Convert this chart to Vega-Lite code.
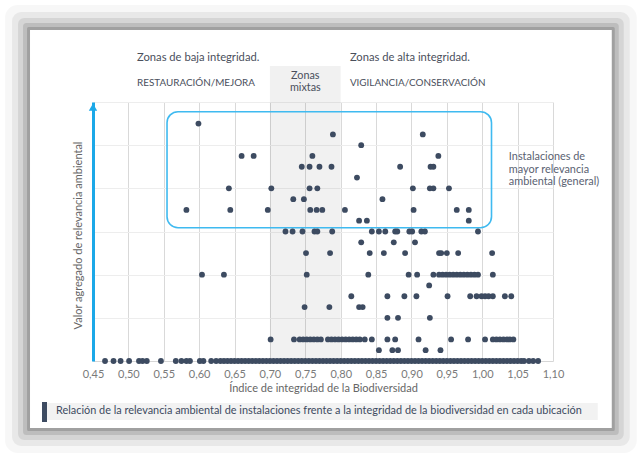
{
  "$schema": "https://vega.github.io/schema/vega-lite/v6.json",
  "autosize": {"type": "none"},
  "padding": {"left": 93, "top": 102, "right": 91, "bottom": 96},
  "width": 460,
  "height": 259,
  "background": "white",
  "config": {
    "view": {"stroke": null},
    "font": "Lato",
    "text": {"font": "Lato"},
    "axisX": {"labelOverlap": false, "labelBound": false, "labelFlush": false}
  },
  "datasets": {
    "puntos": [
      {"x":0.467,"y":0},{"x":0.479,"y":0},{"x":0.489,"y":0},{"x":0.501,"y":0},{"x":0.515,"y":0},{"x":0.520,"y":0},{"x":0.526,"y":0},{"x":0.546,"y":0},{"x":0.567,"y":0},{"x":0.575,"y":0},{"x":0.582,"y":0},{"x":0.587,"y":0},{"x":0.601,"y":0},{"x":0.606,"y":0},{"x":0.617,"y":0},{"x":0.624,"y":0},
      {"x":0.630,"y":0},{"x":0.635,"y":0},{"x":0.640,"y":0},{"x":0.645,"y":0},{"x":0.650,"y":0},{"x":0.655,"y":0},{"x":0.660,"y":0},{"x":0.665,"y":0},{"x":0.670,"y":0},{"x":0.675,"y":0},{"x":0.680,"y":0},{"x":0.685,"y":0},{"x":0.690,"y":0},{"x":0.695,"y":0},{"x":0.700,"y":0},{"x":0.705,"y":0},{"x":0.710,"y":0},{"x":0.715,"y":0},{"x":0.720,"y":0},{"x":0.725,"y":0},{"x":0.730,"y":0},{"x":0.735,"y":0},{"x":0.740,"y":0},{"x":0.745,"y":0},{"x":0.750,"y":0},{"x":0.755,"y":0},{"x":0.760,"y":0},{"x":0.765,"y":0},{"x":0.770,"y":0},{"x":0.775,"y":0},{"x":0.780,"y":0},{"x":0.785,"y":0},{"x":0.790,"y":0},{"x":0.795,"y":0},{"x":0.800,"y":0},{"x":0.805,"y":0},{"x":0.810,"y":0},{"x":0.815,"y":0},{"x":0.820,"y":0},{"x":0.825,"y":0},{"x":0.830,"y":0},{"x":0.835,"y":0},{"x":0.840,"y":0},{"x":0.845,"y":0},{"x":0.850,"y":0},{"x":0.855,"y":0},{"x":0.860,"y":0},{"x":0.865,"y":0},{"x":0.870,"y":0},{"x":0.875,"y":0},{"x":0.880,"y":0},{"x":0.885,"y":0},{"x":0.890,"y":0},{"x":0.895,"y":0},{"x":0.900,"y":0},{"x":0.905,"y":0},{"x":0.910,"y":0},{"x":0.915,"y":0},{"x":0.920,"y":0},{"x":0.925,"y":0},{"x":0.930,"y":0},{"x":0.935,"y":0},{"x":0.940,"y":0},{"x":0.945,"y":0},{"x":0.950,"y":0},{"x":0.955,"y":0},{"x":0.960,"y":0},{"x":0.965,"y":0},{"x":0.970,"y":0},{"x":0.975,"y":0},{"x":0.980,"y":0},{"x":0.985,"y":0},{"x":0.990,"y":0},{"x":0.995,"y":0},{"x":1.000,"y":0},{"x":1.005,"y":0},{"x":1.010,"y":0},{"x":1.015,"y":0},{"x":1.020,"y":0},{"x":1.025,"y":0},{"x":1.030,"y":0},{"x":1.035,"y":0},{"x":1.040,"y":0},{"x":1.045,"y":0},{"x":1.050,"y":0},{"x":1.055,"y":0},{"x":1.059,"y":0},{"x":1.066,"y":0},{"x":1.072,"y":0},{"x":1.079,"y":0},
      {"x":0.854,"y":0.25},{"x":0.873,"y":0.25},{"x":0.881,"y":0.25},{"x":0.920,"y":0.25},{"x":0.941,"y":0.25},
      {"x":0.701,"y":0.5},{"x":0.734,"y":0.5},{"x":0.742,"y":0.5},{"x":0.747,"y":0.5},{"x":0.752,"y":0.5},{"x":0.757,"y":0.5},{"x":0.762,"y":0.5},{"x":0.767,"y":0.5},{"x":0.772,"y":0.5},{"x":0.782,"y":0.5},{"x":0.787,"y":0.5},{"x":0.792,"y":0.5},{"x":0.797,"y":0.5},{"x":0.802,"y":0.5},{"x":0.807,"y":0.5},{"x":0.812,"y":0.5},{"x":0.817,"y":0.5},{"x":0.822,"y":0.5},{"x":0.827,"y":0.5},{"x":0.834,"y":0.5},{"x":0.844,"y":0.5},{"x":0.866,"y":0.5},{"x":0.877,"y":0.5},{"x":0.910,"y":0.5},{"x":0.956,"y":0.5},{"x":0.980,"y":0.5},{"x":1.004,"y":0.5},{"x":1.015,"y":0.5},{"x":1.020,"y":0.5},{"x":1.025,"y":0.5},{"x":1.030,"y":0.5},{"x":1.035,"y":0.5},{"x":1.039,"y":0.5},{"x":1.044,"y":0.5},
      {"x":0.866,"y":1},{"x":0.881,"y":1},{"x":0.926,"y":1},
      {"x":0.749,"y":1.25},{"x":0.784,"y":1.25},{"x":0.826,"y":1.25},{"x":0.831,"y":1.25},
      {"x":0.815,"y":1.5},{"x":0.866,"y":1.5},{"x":0.890,"y":1.5},{"x":0.907,"y":1.5},{"x":0.951,"y":1.5},{"x":0.983,"y":1.5},{"x":0.992,"y":1.5},{"x":0.999,"y":1.5},{"x":1.004,"y":1.5},{"x":1.009,"y":1.5},{"x":1.015,"y":1.5},{"x":1.032,"y":1.5},{"x":1.041,"y":1.5},
      {"x":0.925,"y":1.75},
      {"x":0.604,"y":2},{"x":0.635,"y":2},{"x":0.752,"y":2},{"x":0.839,"y":2},{"x":0.896,"y":2},{"x":0.908,"y":2},{"x":0.931,"y":2},{"x":0.939,"y":2},{"x":0.944,"y":2},{"x":0.949,"y":2},{"x":0.954,"y":2},{"x":0.959,"y":2},{"x":0.964,"y":2},{"x":0.969,"y":2},{"x":0.974,"y":2},{"x":0.979,"y":2},{"x":0.984,"y":2},{"x":0.989,"y":2},{"x":0.994,"y":2},{"x":1.015,"y":2},
      {"x":0.751,"y":2.5},{"x":0.785,"y":2.5},{"x":0.841,"y":2.5},{"x":0.861,"y":2.5},{"x":0.891,"y":2.5},{"x":0.939,"y":2.5},{"x":0.942,"y":2.5},{"x":0.950,"y":2.5},{"x":0.966,"y":2.5},{"x":1.014,"y":2.5},
      {"x":0.829,"y":2.75},{"x":0.875,"y":2.75},{"x":0.905,"y":2.75},
      {"x":0.722,"y":3},{"x":0.732,"y":3},{"x":0.746,"y":3},{"x":0.763,"y":3},{"x":0.767,"y":3},{"x":0.788,"y":3},{"x":0.844,"y":3},{"x":0.854,"y":3},{"x":0.863,"y":3},{"x":0.877,"y":3},{"x":0.880,"y":3},{"x":0.897,"y":3},{"x":0.901,"y":3},{"x":0.914,"y":3},{"x":0.919,"y":3},{"x":0.994,"y":3},
      {"x":0.826,"y":3.25},{"x":0.837,"y":3.25},{"x":0.981,"y":3.25},
      {"x":0.582,"y":3.5},{"x":0.644,"y":3.5},{"x":0.697,"y":3.5},{"x":0.757,"y":3.5},{"x":0.766,"y":3.5},{"x":0.774,"y":3.5},{"x":0.806,"y":3.5},{"x":0.903,"y":3.5},{"x":0.964,"y":3.5},{"x":0.981,"y":3.5},
      {"x":0.733,"y":3.75},{"x":0.748,"y":3.75},{"x":0.859,"y":3.75},
      {"x":0.642,"y":4},{"x":0.702,"y":4},{"x":0.756,"y":4},{"x":0.767,"y":4},{"x":0.902,"y":4},{"x":0.926,"y":4},{"x":0.931,"y":4},{"x":0.953,"y":4},
      {"x":0.823,"y":4.25},
      {"x":0.745,"y":4.5},{"x":0.756,"y":4.5},{"x":0.770,"y":4.5},{"x":0.787,"y":4.5},{"x":0.884,"y":4.5},{"x":0.927,"y":4.5},{"x":0.931,"y":4.5},
      {"x":0.660,"y":4.75},{"x":0.677,"y":4.75},{"x":0.760,"y":4.75},{"x":0.938,"y":4.75},
      {"x":0.829,"y":5},
      {"x":0.789,"y":5.25},{"x":0.916,"y":5.25},
      {"x":0.599,"y":5.5}
    ]
  },
  "encoding": {
    "x": {"field": "x", "type": "quantitative", "scale": {"domain": [0.45, 1.10], "nice": false, "zero": false},
      "axis": {"values": [0.45,0.5,0.55,0.6,0.65,0.7,0.75,0.8,0.85,0.9,0.95,1.0,1.05,1.1], "labelExpr": "replace(format(datum.value, '.2f'), '.', ',')", "labelOverlap": false, "grid": true, "gridColor": "#d9d9d9", "domainColor": "#d6d6d6", "ticks": false, "labelPadding": 7, "labelColor": "#7a7a7a", "labelFont": "Lato", "labelFontSize": 11, "title": "Índice de integridad de la Biodiversidad", "titleFont": "Lato", "titleFontSize": 11, "titleFontWeight": "normal", "titleColor": "#666666", "titlePadding": 3}},
    "y": {"field": "y", "type": "quantitative", "scale": {"domain": [0, 6], "nice": false, "zero": false},
      "axis": {"values": [0,1,2,3,4,5,6], "grid": true, "gridColor": "#ededed", "labels": false, "ticks": false, "domainColor": "#1ba8e8", "domainWidth": 3, "title": "Valor agregado de relevancia ambiental", "titleFont": "Lato", "titleFontSize": 11, "titleFontWeight": "normal", "titleColor": "#666666", "titlePadding": 10, "titleY": 133}}
  },
  "layer": [
    {
      "data": {"values": [{"x": 0.34336, "x2": 1.20071, "y": 7.95758, "y2": -1.84168}]},
      "mark": {"type": "rect", "fill": null, "stroke": "black", "strokeWidth": 25, "strokeOpacity": 0.03, "strokeJoin": "round"},
      "encoding": {"x2": {"field": "x2"}, "y2": {"field": "y2"}}
    },
    {
      "data": {"values": [{"x": 0.34831, "x2": 1.19576, "y": 7.8765, "y2": -1.7606}]},
      "mark": {"type": "rect", "fill": null, "stroke": "black", "strokeWidth": 18, "strokeOpacity": 0.06, "strokeJoin": "round"},
      "encoding": {"x2": {"field": "x2"}, "y2": {"field": "y2"}}
    },
    {
      "data": {"values": [{"x": 0.35255, "x2": 1.19152, "y": 7.807, "y2": -1.6911}]},
      "mark": {"type": "rect", "fill": null, "stroke": "black", "strokeWidth": 12, "strokeOpacity": 0.08, "strokeJoin": "round"},
      "encoding": {"x2": {"field": "x2"}, "y2": {"field": "y2"}}
    },
    {
      "data": {"values": [{"x": 0.35608, "x2": 1.18799, "y": 7.74908, "y2": -1.63318}]},
      "mark": {"type": "rect", "fill": null, "stroke": "black", "strokeWidth": 7, "strokeOpacity": 0.11, "strokeJoin": "round"},
      "encoding": {"x2": {"field": "x2"}, "y2": {"field": "y2"}}
    },
    {
      "data": {"values": [{"x": 0.35890, "x2": 1.18517, "y": 7.70275, "y2": -1.58685}]},
      "mark": {"type": "rect", "fill": null, "stroke": "black", "strokeWidth": 3, "strokeOpacity": 0.15, "strokeJoin": "round"},
      "encoding": {"x2": {"field": "x2"}, "y2": {"field": "y2"}}
    },
    {
      "data": {"values": [{"x": 0.70, "x2": 0.80, "y": 0, "y2": 6.834}]},
      "mark": {"type": "rect", "fill": "#000000", "fillOpacity": 0.055},
      "encoding": {"x2": {"field": "x2"}, "y2": {"field": "y2"}}
    },
    {
      "data": {"values": [{"x": 0.5546, "x2": 1.0131, "y": 5.775, "y2": 3.088}]},
      "mark": {"type": "rect", "fill": null, "stroke": "#3fbaf0", "strokeWidth": 1.6, "cornerRadius": 11},
      "encoding": {"x2": {"field": "x2"}, "y2": {"field": "y2"}}
    },
    {
      "data": {"name": "puntos"},
      "mark": {"type": "circle", "size": 34, "color": "#3d4b61", "opacity": 1}
    },
    {
      "data": {"values": [{"x": 0.45, "y": 5.88}]},
      "mark": {"type": "point", "shape": "triangle-up", "filled": true, "size": 70, "color": "#1ba8e8", "opacity": 1}
    },
    {
      "data": {"values": [
        {"x": 0.5122, "y": 7.019, "t": "Zonas de baja integridad."},
        {"x": 0.8130, "y": 7.019, "t": "Zonas de alta integridad."}
      ]},
      "mark": {"type": "text", "align": "left", "baseline": "middle", "font": "Lato", "fontSize": 11.2, "color": "#4a4f5c"},
      "encoding": {"text": {"field": "t"}}
    },
    {
      "data": {"values": [
        {"x": 0.5122, "y": 6.45, "t": "RESTAURACIÓN/MEJORA"},
        {"x": 0.8130, "y": 6.45, "t": "VIGILANCIA/CONSERVACIÓN"}
      ]},
      "mark": {"type": "text", "align": "left", "baseline": "middle", "font": "Lato", "fontSize": 9.9, "color": "#4a4f5c"},
      "encoding": {"text": {"field": "t"}}
    },
    {
      "data": {"values": [
        {"x": 0.75, "y": 6.602, "t": "Zonas"},
        {"x": 0.75, "y": 6.324, "t": "mixtas"}
      ]},
      "mark": {"type": "text", "align": "center", "baseline": "middle", "font": "Lato", "fontSize": 10.8, "color": "#4a4f5c"},
      "encoding": {"text": {"field": "t"}}
    },
    {
      "data": {"values": [
        {"x": 1.0376, "y": 4.733, "t": "Instalaciones de"},
        {"x": 1.0376, "y": 4.425, "t": "mayor relevancia"},
        {"x": 1.0376, "y": 4.140, "t": "ambiental (general)"}
      ]},
      "mark": {"type": "text", "align": "left", "baseline": "middle", "font": "Lato", "fontSize": 10.9, "color": "#5a6272"},
      "encoding": {"text": {"field": "t"}}
    },
    {
      "data": {"values": [{"x": 0.38503, "x2": 1.16326, "y": -0.97297, "y2": -1.36679}]},
      "mark": {"type": "rect", "fill": "#f2f2f2"},
      "encoding": {"x2": {"field": "x2"}, "y2": {"field": "y2"}}
    },
    {
      "data": {"values": [{"x": 0.37797, "x2": 0.38503, "y": -0.9498, "y2": -1.4131}]},
      "mark": {"type": "rect", "fill": "#3d4b61"},
      "encoding": {"x2": {"field": "x2"}, "y2": {"field": "y2"}}
    },
    {
      "data": {"values": [{"x": 0.3977, "y": -1.158, "t": "Relación de la relevancia ambiental de instalaciones frente a la integridad de la biodiversidad en cada ubicación"}]},
      "mark": {"type": "text", "align": "left", "baseline": "middle", "font": "Lato", "fontSize": 10.9, "color": "#3d4b61"},
      "encoding": {"text": {"field": "t"}}
    }
  ]
}
